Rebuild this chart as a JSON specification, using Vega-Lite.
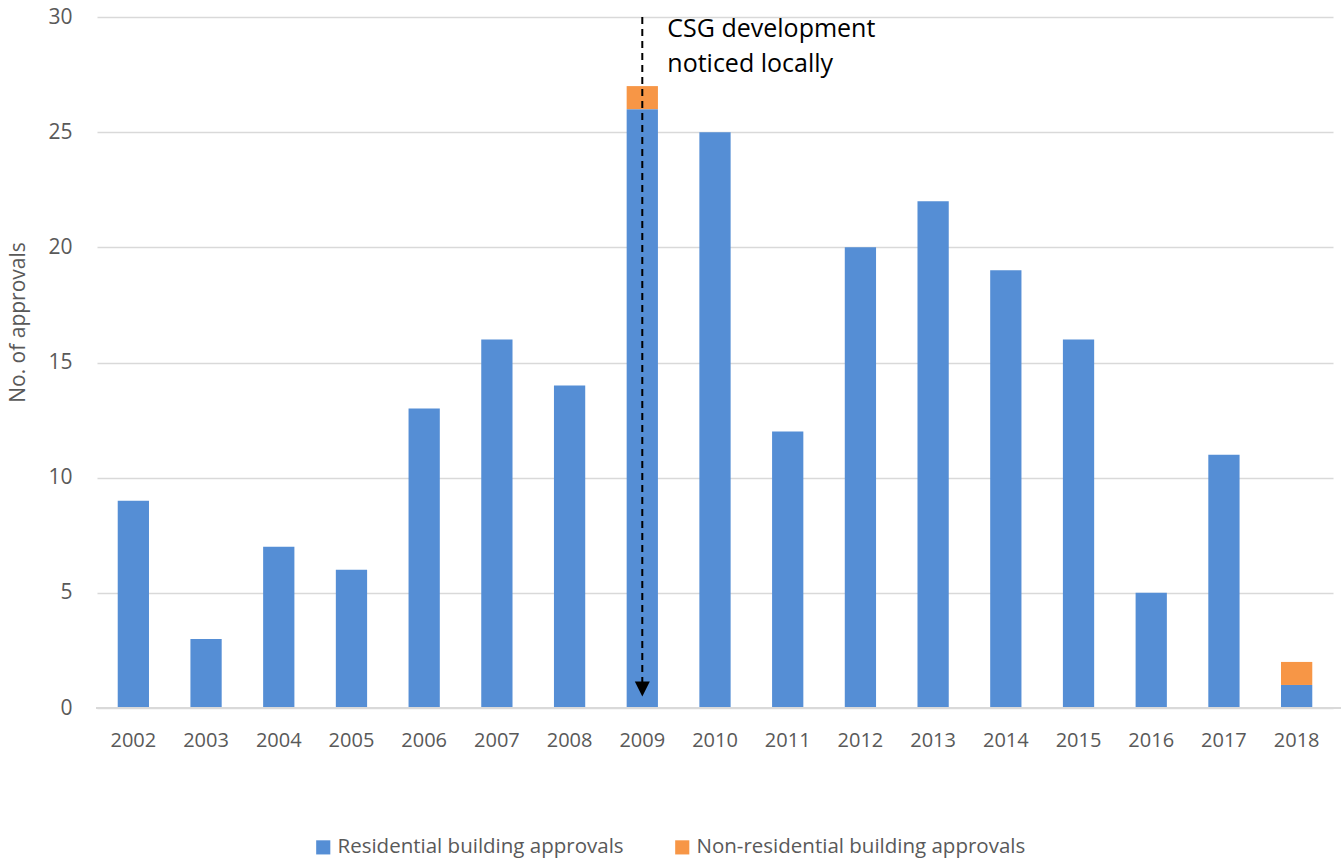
{
  "$schema": "https://vega.github.io/schema/vega-lite/v6.json",
  "autosize": {"type": "none"},
  "width": 1245,
  "height": 691,
  "padding": {"left": 96, "top": 17, "right": 0, "bottom": 153},
  "background": "white",
  "config": {
    "view": {"stroke": null},
    "font": "Open Sans"
  },
  "datasets": {
    "bars": [
      {"year": "2002", "type": "Residential building approvals", "ord": 1, "value": 9},
      {"year": "2003", "type": "Residential building approvals", "ord": 1, "value": 3},
      {"year": "2004", "type": "Residential building approvals", "ord": 1, "value": 7},
      {"year": "2005", "type": "Residential building approvals", "ord": 1, "value": 6},
      {"year": "2006", "type": "Residential building approvals", "ord": 1, "value": 13},
      {"year": "2007", "type": "Residential building approvals", "ord": 1, "value": 16},
      {"year": "2008", "type": "Residential building approvals", "ord": 1, "value": 14},
      {"year": "2009", "type": "Residential building approvals", "ord": 1, "value": 26},
      {"year": "2010", "type": "Residential building approvals", "ord": 1, "value": 25},
      {"year": "2011", "type": "Residential building approvals", "ord": 1, "value": 12},
      {"year": "2012", "type": "Residential building approvals", "ord": 1, "value": 20},
      {"year": "2013", "type": "Residential building approvals", "ord": 1, "value": 22},
      {"year": "2014", "type": "Residential building approvals", "ord": 1, "value": 19},
      {"year": "2015", "type": "Residential building approvals", "ord": 1, "value": 16},
      {"year": "2016", "type": "Residential building approvals", "ord": 1, "value": 5},
      {"year": "2017", "type": "Residential building approvals", "ord": 1, "value": 11},
      {"year": "2018", "type": "Residential building approvals", "ord": 1, "value": 1},
      {"year": "2009", "type": "Non-residential building approvals", "ord": 2, "value": 1},
      {"year": "2018", "type": "Non-residential building approvals", "ord": 2, "value": 1}
    ],
    "arrow": [
      {"year": "2009", "top": 30, "bottom": 1.1, "tip": 0.82}
    ],
    "note": [
      {"year": "2009", "y": 30, "label": ["CSG development", "noticed locally"]}
    ]
  },
  "encoding": {
    "x": {
      "field": "year",
      "type": "nominal",
      "scale": {"paddingInner": 0.57, "paddingOuter": 0.285, "range": [1, 1237]},
      "axis": {
        "title": null,
        "labelAngle": 0,
        "labelFontSize": 20,
        "labelColor": "#595959",
        "labelPadding": 22,
        "ticks": false,
        "domain": false,
        "grid": false
      }
    }
  },
  "layer": [
    {
      "data": {"name": "bars"},
      "mark": {"type": "bar"},
      "encoding": {
        "y": {
          "field": "value",
          "type": "quantitative",
          "stack": "zero",
          "scale": {"domain": [0, 30], "nice": false},
          "axis": {
            "values": [0, 5, 10, 15, 20, 25, 30],
            "title": "No. of approvals",
            "titleFontSize": 21,
            "titleFontWeight": "normal",
            "titleColor": "#595959",
            "titleX": -78,
            "titleY": 305,
            "titleAlign": "center",
            "titleBaseline": "middle",
            "labelFontSize": 21,
            "labelColor": "#595959",
            "labelPadding": 24,
            "ticks": false,
            "domain": false,
            "gridColor": "#d9d9d9",
            "gridWidth": 1.3
          }
        },
        "color": {
          "field": "type",
          "type": "nominal",
          "scale": {
            "domain": ["Residential building approvals", "Non-residential building approvals"],
            "range": ["#558ED5", "#F79646"]
          },
          "legend": {
            "title": null,
            "orient": "none",
            "direction": "horizontal",
            "legendX": 217,
            "legendY": 820,
            "symbolType": "square",
            "symbolSize": 200,
            "symbolStrokeWidth": 0,
            "labelFontSize": 20.5,
            "labelColor": "#595959",
            "columnPadding": 48,
            "labelLimit": 400
          }
        },
        "order": {"field": "ord", "type": "quantitative"}
      }
    },
    {
      "data": {"name": "bars"},
      "mark": {"type": "rule", "color": "#d9d9d9", "strokeWidth": 1.5},
      "encoding": {
        "x": {"value": 0},
        "x2": {"value": 1245},
        "y": {"datum": 0}
      }
    },
    {
      "data": {"name": "arrow"},
      "mark": {"type": "rule", "color": "black", "strokeWidth": 2, "strokeDash": [7, 5]},
      "encoding": {
        "y": {"field": "top", "type": "quantitative"},
        "y2": {"field": "bottom"}
      }
    },
    {
      "data": {"name": "arrow"},
      "mark": {"type": "point", "shape": "M-1,-1L1,-1L0,1Z", "filled": true, "color": "black", "size": 225, "opacity": 1},
      "encoding": {
        "y": {"field": "tip", "type": "quantitative"}
      }
    },
    {
      "data": {"name": "note"},
      "mark": {"type": "text", "align": "left", "baseline": "top", "dx": 25, "dy": 0, "fontSize": 25, "lineHeight": 35, "color": "black"},
      "encoding": {
        "y": {"field": "y", "type": "quantitative"},
        "text": {"field": "label"}
      }
    }
  ]
}
